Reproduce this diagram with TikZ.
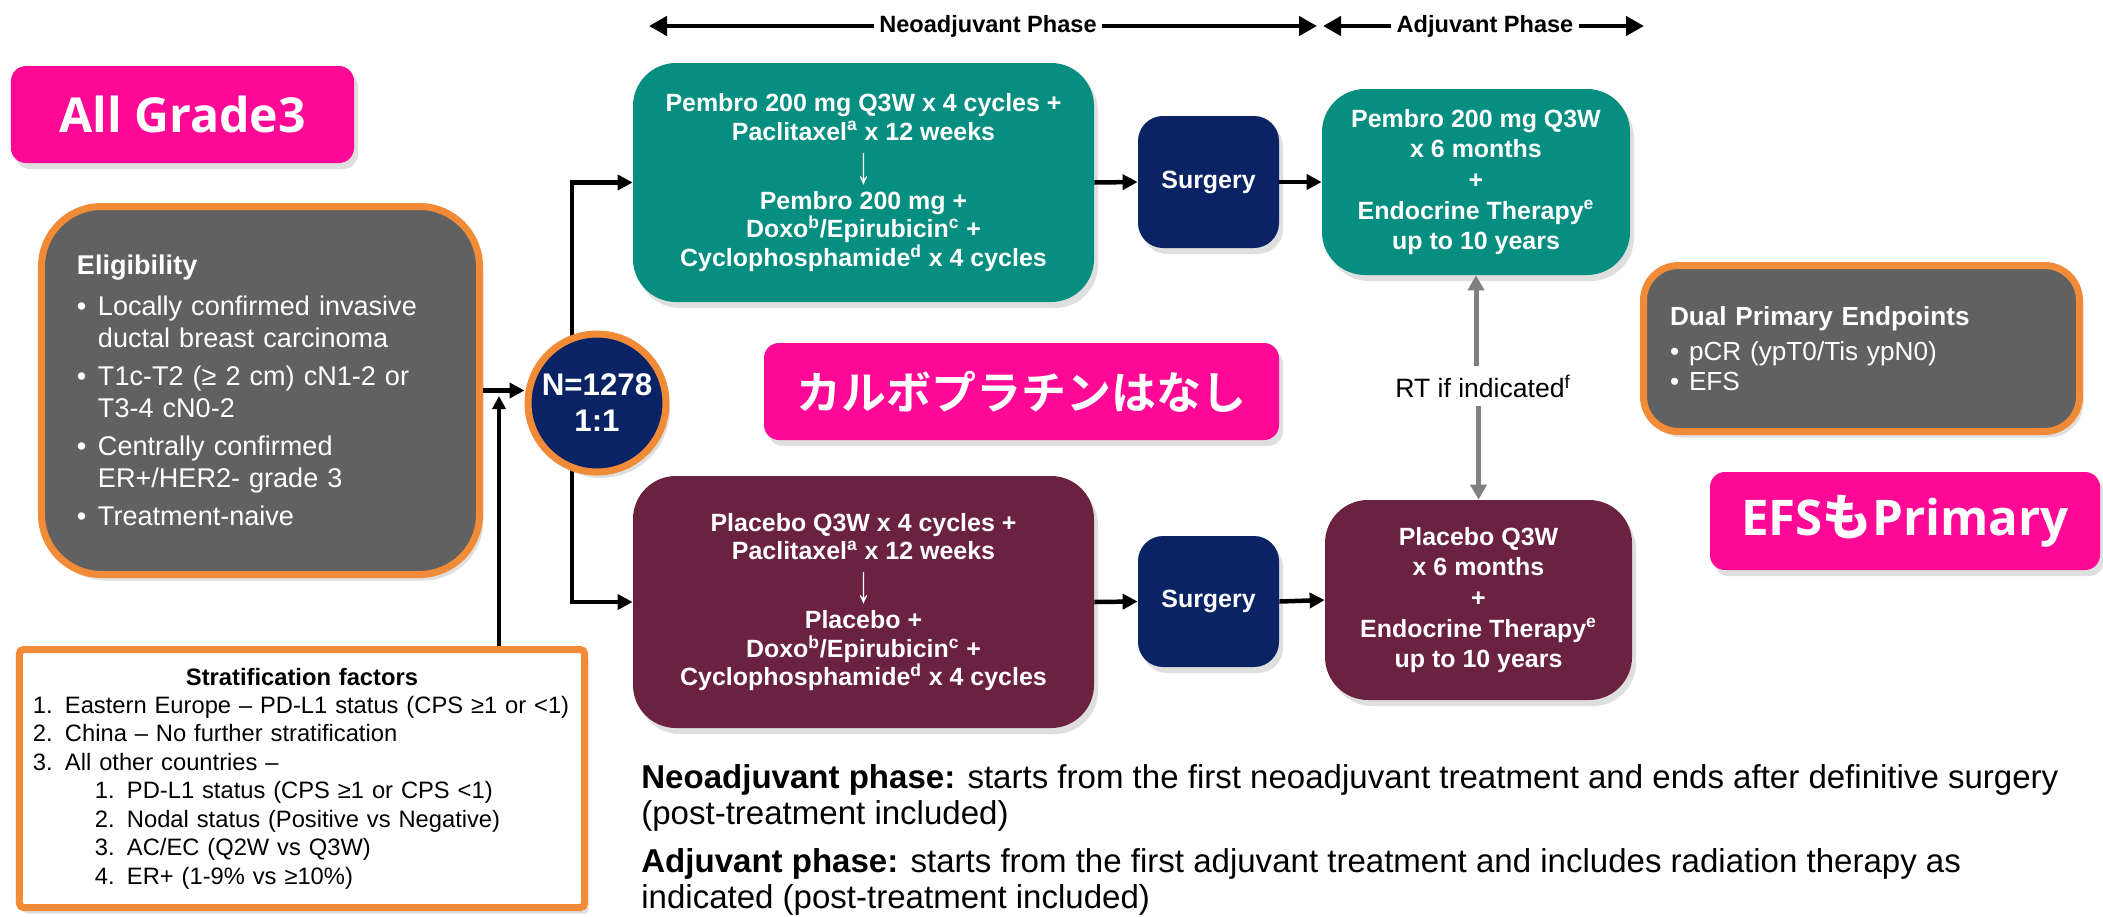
\documentclass[tikz,border=0pt]{standalone}
\usepackage{fontspec}
\usepackage{graphicx}
\setmainfont{Liberation Sans}
\newfontfamily\jpfont{Noto Sans CJK JP Bold}
\newfontfamily\notefont{Open Sans}
\usetikzlibrary{arrows.meta,shadows}

\definecolor{armteal}{RGB}{6,142,128}
\definecolor{armmaroon}{RGB}{107,33,64}
\definecolor{randnavy}{RGB}{9,35,101}
\definecolor{boxgrey}{RGB}{97,97,97}
\definecolor{accent}{RGB}{242,139,56}
\definecolor{notepink}{RGB}{255,8,150}
\definecolor{rtgrey}{RGB}{128,128,128}

\newcommand{\elbul}{\makebox[4.2mm][l]{•}}
\newcommand{\dubul}{\makebox[3.8mm][l]{•}}
\newcommand{\stnum}[1]{\makebox[6.4mm][l]{#1}}
\newcommand{\thendown}{\raisebox{-0.34em}[0pt][0pt]{\mdseries\resizebox{0.6em}{1.2em}{↓}}}

\tikzset{
  boxshadow/.style={drop shadow={shadow xshift=0.8mm, shadow yshift=-1.2mm, opacity=0.25}},
  armtxt/.style={text=white, font=\bfseries\fontsize{14.2}{16.2}\selectfont, align=center, inner sep=0pt},
  tealarm/.style={armtxt, fill=armteal, rounded corners=8.6mm, boxshadow},
  maroonarm/.style={armtxt, fill=armmaroon, rounded corners=8.6mm, boxshadow},
  surgbox/.style={armtxt, fill=randnavy, rounded corners=5mm, boxshadow},
  notebox/.style={fill=notepink, rounded corners=3mm, text=white, inner sep=0pt, boxshadow},
  greybox/.style={fill=boxgrey, draw=accent, line width=1.4mm, text=white, align=left, inner xsep=0pt, boxshadow},
  flow/.style={line width=0.9mm, line join=miter, -{Triangle[length=3mm, width=3mm]}},
  rtflow/.style={draw=rtgrey, line width=1mm, -{Triangle[length=3mm, width=3.2mm]}},
  phase/.style={line width=0.9mm, -{Triangle[length=3.6mm, width=3.8mm]}},
  phasetxt/.style={font=\bfseries\fontsize{13.4}{15}\selectfont, inner sep=1mm},
}

\begin{document}
\begin{tikzpicture}[x=0.2mm, y=-0.2mm]
    \useasboundingbox (0,0) rectangle (2103,916);

    % phase headers
    \node[phasetxt] (neohdr) at (988,26) {Neoadjuvant Phase};
    \node[phasetxt] (adjhdr) at (1485,26) {Adjuvant Phase};
    \coordinate (neoL) at (649,26);
    \coordinate (neoR) at (1317,26);
    \coordinate (adjL) at (1323,26);
    \coordinate (adjR) at (1644,26);
    \draw[phase] (neohdr.west) -- (neoL);
    \draw[phase] (neohdr.east) -- (neoR);
    \draw[phase] (adjhdr.west) -- (adjL);
    \draw[phase] (adjhdr.east) -- (adjR);

    % notes
    \node[notebox, minimum width=68.6mm, minimum height=19.4mm, font=\notefont\bfseries\fontsize{27.4}{30}\selectfont] (grade) at (182.5,114.5) {All Grade3};
    \node[notebox, minimum width=103mm, minimum height=19.4mm, font=\jpfont\fontsize{25.6}{30}\selectfont] (carbo) at (1021.5,391.5) {カルボプラチンはなし};
    \node[notebox, minimum width=78mm, minimum height=19.6mm, font=\notefont\bfseries\fontsize{28}{30}\selectfont] (efs) at (1905,521) {EFS{\jpfont も}Primary};

    % eligibility
    \node[greybox, rounded corners=12mm, minimum width=87.6mm, minimum height=73.6mm, text width=73.4mm,
          font=\fontsize{15.4}{18.2}\selectfont] (elig) at (260.5,390.5)
        {{\bfseries Eligibility}\\[5pt]
         \elbul Locally confirmed invasive\\
         \hspace*{4.2mm}ductal breast carcinoma\\[3.4pt]
         \elbul T1c-T2 (≥ 2 cm) cN1-2 or\\
         \hspace*{4.2mm}T3-4 cN0-2\\[3.4pt]
         \elbul Centrally confirmed\\
         \hspace*{4.2mm}ER+/HER2- grade 3\\[3.4pt]
         \elbul Treatment-naive};

    % stratification
    \node[draw=accent, fill=white, line width=1.4mm, rounded corners=0.8mm, minimum width=113mm, minimum height=51.6mm,
          text width=107.6mm, align=left, inner xsep=0pt, font=\fontsize{13.5}{16.2}\selectfont, boxshadow] (strat) at (302,778.5)
        {\makebox[107.6mm]{\bfseries Stratification factors}\\
         \stnum{1.}Eastern Europe – PD-L1 status (CPS ≥1 or <1)\\
         \stnum{2.}China – No further stratification\\
         \stnum{3.}All other countries –\\
         \hspace*{12.4mm}\stnum{1.}PD-L1 status (CPS ≥1 or CPS <1)\\
         \hspace*{12.4mm}\stnum{2.}Nodal status (Positive vs Negative)\\
         \hspace*{12.4mm}\stnum{3.}AC/EC (Q2W vs Q3W)\\
         \hspace*{12.4mm}\stnum{4.}ER+ (1-9\% vs ≥10\%)};

    % arms
    \node[tealarm, minimum width=92.2mm, minimum height=47.8mm] (tealneo) at (863.5,182.5)
        {Pembro 200 mg Q3W x 4 cycles +\\
         Paclitaxel\textsuperscript{a} x 12 weeks\\[3.5pt]
         \thendown\\[3.5pt]
         Pembro 200 mg +\\
         Doxo\textsuperscript{b}/Epirubicin\textsuperscript{c} +\\
         Cyclophosphamide\textsuperscript{d} x 4 cycles};
    \node[maroonarm, minimum width=92.2mm, minimum height=50.4mm] (maroonneo) at (863.5,602)
        {Placebo Q3W x 4 cycles +\\
         Paclitaxel\textsuperscript{a} x 12 weeks\\[3.5pt]
         \thendown\\[3.5pt]
         Placebo +\\
         Doxo\textsuperscript{b}/Epirubicin\textsuperscript{c} +\\
         Cyclophosphamide\textsuperscript{d} x 4 cycles};
    \node[surgbox, minimum width=28.2mm, minimum height=26.4mm] (surg1) at (1208.5,182) {Surgery};
    \node[surgbox, minimum width=28.2mm, minimum height=26.2mm] (surg2) at (1208.5,601.5) {Surgery};
    \node[tealarm, minimum width=61.6mm, minimum height=37.2mm, font=\bfseries\fontsize{14.2}{17.4}\selectfont] (tealadj) at (1476,182)
        {Pembro 200 mg Q3W\\ x 6 months\\ +\\ Endocrine Therapy\textsuperscript{e}\\ up to 10 years};
    \node[maroonarm, minimum width=61.4mm, minimum height=40mm, font=\bfseries\fontsize{14.2}{17.4}\selectfont] (maroonadj) at (1478.5,600)
        {Placebo Q3W\\ x 6 months\\ +\\ Endocrine Therapy\textsuperscript{e}\\ up to 10 years};

    % endpoints
    \node[greybox, rounded corners=7mm, minimum width=87.2mm, minimum height=33.2mm, text width=76.6mm,
          font=\fontsize{14.9}{17}\selectfont] (dual) at (1861.5,348.5)
        {{\bfseries Dual Primary Endpoints}\\[3.4pt]
         \dubul pCR (ypT0/Tis ypN0)\\
         \dubul EFS};

    % randomisation
    \coordinate (brtop) at (572,182.5);
    \coordinate (brmid) at (572,403);
    \coordinate (brbot) at (572,602);
    \draw[flow] (brmid) -- (brtop) -- (tealneo.west);
    \draw[flow] (brmid) -- (brbot) -- (maroonneo.west);
    \node[circle, fill=randnavy, draw=accent, line width=1.4mm, minimum size=27.6mm, inner sep=0pt, text=white, align=center,
          font=\bfseries\fontsize{17.8}{20.5}\selectfont, boxshadow] (rand) at (597,403) {N=1278\\1:1};

    \draw[flow] (elig.east) -- (elig.east -| rand.west);
    \coordinate (stratup) at (499,396);
    \draw[flow, line width=0.8mm, -{Triangle[length=2.6mm, width=2.6mm]}] (strat.north -| stratup) -- (stratup);

    \draw[flow] (tealneo.east) -- (surg1.west);
    \draw[flow] (surg1.east) -- (tealadj.west);
    \draw[flow] (maroonneo.east) -- (surg2.west);
    \draw[flow] (surg2.east) -- (maroonadj.west);

    % radiation
    \node[font=\fontsize{15.1}{18}\selectfont, inner xsep=0pt, inner ysep=1.6mm] (rtlabel) at (1483,386) {RT if indicated\textsuperscript{f}};
    \draw[rtflow] (rtlabel.north -| tealadj.south) -- (tealadj.south);
    \draw[rtflow] (rtlabel.south -| maroonadj.north) -- (maroonadj.north);

    % phase definitions
    \node[anchor=north west, align=left, inner sep=0pt, font=\fontsize{18.8}{20.5}\selectfont] (phasenote) at (641,764)
        {{\bfseries Neoadjuvant phase:} starts from the first neoadjuvant treatment and ends after definitive surgery\\
         (post-treatment included)\\[6.8pt]
         {\bfseries Adjuvant phase:} starts from the first adjuvant treatment and includes radiation therapy as\\
         indicated (post-treatment included)};

\end{tikzpicture}
\end{document}
